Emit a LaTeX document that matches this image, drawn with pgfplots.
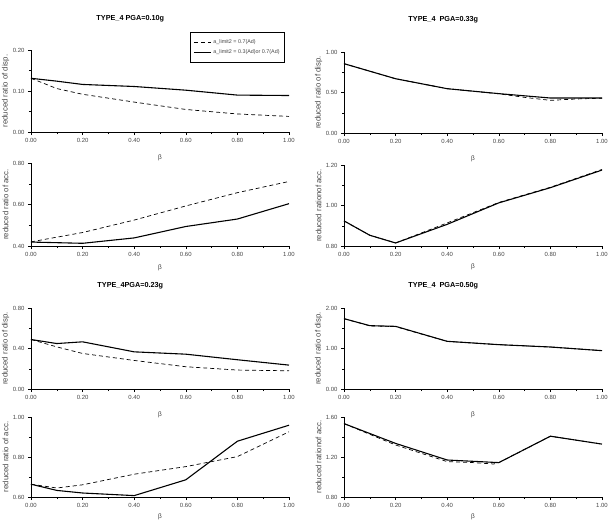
\documentclass[border=0pt]{standalone}
\usepackage{pgfplots}
\pgfplotsset{compat=1.18}
\usepackage{fontspec}
\setmainfont{Liberation Sans}
\definecolor{tk}{RGB}{70,70,70}
\pgfplotsset{
  panel/.style={
    scale only axis, width=258bp, height=82bp,
    anchor=south west,
    axis lines=left, axis line style={-, black, line width=0.6pt},
    tick align=outside, major tick length=3bp, minor tick length=2bp,
    tick style={black, line width=0.5pt},
    xmin=0, xmax=1, xtick={0,0.2,...,1.0}, minor x tick num=1,
    minor y tick num=1,
    /pgf/number format/assume math mode=true,
    /pgf/number format/.cd, fixed, fixed zerofill, precision=2, /pgfplots/.cd,
    ticklabel style={font=\fontsize{6}{7}\selectfont, text=tk},
    xlabel={β}, ylabel style={font=\fontsize{7.8}{8}\selectfont, text=tk, at={(axis description cs:-0.098,0.5)}, anchor=center},
    xlabel style={font=\fontsize{6.5}{7}\selectfont, text=tk, anchor=center},
    title style={font=\bfseries\fontsize{7.3}{8}\selectfont, anchor=center},
    clip=false,
  },
  sol/.style={black, line width=1.1pt, no marks},
  das/.style={black, line width=0.7pt, dash pattern=on 4bp off 3bp, no marks},
}
\begin{document}
\begin{tikzpicture}
\useasboundingbox (0,0) rectangle (610bp,-520bp);
% ---------------- TL disp
\begin{axis}[panel, at={(31bp,-132bp)}, ymin=0, ymax=0.2, ytick={0,0.1,0.2},
  title={TYPE\_4 PGA=0.10g}, title style={at={(axis description cs:0.385,1.305)}},
  ylabel={reduced ratio of disp.}, xlabel style={at={(axis description cs:0.5,-0.317)}},
  legend style={at={(axis description cs:0.984,1.22)}, anchor=north east, draw=black, line width=0.5pt,
    font=\fontsize{5.4}{6.5}\selectfont, inner xsep=3bp, inner ysep=5bp, row sep=1.5bp, text=tk},
  legend image post style={line width=0.8pt},
  legend cell align=left]
\addplot[das] coordinates {(0,0.131)(0.1,0.106)(0.2,0.092)(0.4,0.073)(0.6,0.055)(0.8,0.044)(1.0,0.038)};
\addlegendentry{a\_limit2 = 0.7(Ad)}
\addplot[sol] coordinates {(0,0.131)(0.1,0.124)(0.2,0.116)(0.4,0.111)(0.6,0.102)(0.8,0.090)(1.0,0.089)};
\addlegendentry{a\_limit2 = 0.3(Ad)or 0.7(Ad)}
\end{axis}
% ---------------- TL acc
\begin{axis}[panel, at={(31bp,-246bp)}, height=83bp, ymin=0.4, ymax=0.8, ytick={0.4,0.6,0.8},
  ylabel={reduced ratio of acc.}, xlabel style={at={(axis description cs:0.5,-0.26)}}]
\addplot[das] coordinates {(0,0.420)(0.2,0.465)(0.4,0.525)(0.6,0.593)(0.8,0.657)(1.0,0.711)};
\addplot[sol] coordinates {(0,0.419)(0.2,0.413)(0.4,0.439)(0.6,0.494)(0.8,0.530)(1.0,0.604)};
\end{axis}
% ---------------- TR disp
\begin{axis}[panel, at={(344bp,-133bp)}, height=81bp, ymin=0, ymax=1, ytick={0,0.5,1},
  title={TYPE\_4\ \ PGA=0.33g}, title style={at={(axis description cs:0.385,1.33)}},
  ylabel={reduced ratio of disp.}, xlabel style={at={(axis description cs:0.5,-0.317)}}]
\addplot[das] coordinates {(0,0.856)(0.2,0.670)(0.4,0.547)(0.6,0.484)(0.7,0.440)(0.8,0.403)(0.9,0.420)(1.0,0.430)};
\addplot[sol] coordinates {(0,0.856)(0.2,0.670)(0.4,0.547)(0.6,0.486)(0.8,0.432)(1.0,0.432)};
\end{axis}
% ---------------- TR acc
\begin{axis}[panel, at={(344bp,-246bp)}, height=81bp, ymin=0.8, ymax=1.2, ytick={0.8,1.0,1.2},
  ylabel={reduced rationof acc.}, xlabel style={at={(axis description cs:0.5,-0.26)}}]
\addplot[das] coordinates {(0,0.924)(0.1,0.853)(0.2,0.815)(0.4,0.914)(0.6,1.015)(0.8,1.090)(1.0,1.178)};
\addplot[sol] coordinates {(0,0.924)(0.1,0.853)(0.2,0.815)(0.4,0.907)(0.6,1.013)(0.8,1.088)(1.0,1.175)};
\end{axis}
% ---------------- BL disp
\begin{axis}[panel, at={(31bp,-389bp)}, height=81bp, ymin=0, ymax=0.8, ytick={0,0.4,0.8},
  title={TYPE\_4PGA=0.23g}, title style={at={(axis description cs:0.385,1.2)}},
  ylabel={reduced ratio of disp.}, xlabel style={at={(axis description cs:0.5,-0.317)}}]
\addplot[das] coordinates {(0,0.489)(0.1,0.416)(0.2,0.351)(0.4,0.282)(0.6,0.220)(0.8,0.187)(1.0,0.180)};
\addplot[sol] coordinates {(0,0.489)(0.1,0.449)(0.2,0.466)(0.4,0.367)(0.6,0.344)(0.8,0.289)(1.0,0.236)};
\end{axis}
% ---------------- BL acc
\begin{axis}[panel, at={(31bp,-497bp)}, height=80bp, ymin=0.6, ymax=1.0, ytick={0.6,0.8,1.0},
  ylabel={reduced ratio of acc.}, xlabel style={at={(axis description cs:0.5,-0.25)}}]
\addplot[das] coordinates {(0,0.664)(0.1,0.645)(0.2,0.661)(0.4,0.714)(0.6,0.752)(0.8,0.802)(1.0,0.926)};
\addplot[sol] coordinates {(0,0.664)(0.1,0.633)(0.2,0.620)(0.4,0.607)(0.6,0.686)(0.8,0.879)(1.0,0.959)};
\end{axis}
% ---------------- BR disp
\begin{axis}[panel, at={(344bp,-389bp)}, height=81bp, ymin=0, ymax=2, ytick={0,1,2},
  title={TYPE\_4\ \ PGA=0.50g}, title style={at={(axis description cs:0.385,1.2)}},
  ylabel={reduced ratio of disp.}, xlabel style={at={(axis description cs:0.5,-0.317)}}]
\addplot[das] coordinates {(0,1.737)(0.1,1.560)(0.2,1.540)(0.4,1.177)(0.6,1.095)(0.8,1.037)(1.0,0.947)};
\addplot[sol] coordinates {(0,1.737)(0.1,1.564)(0.2,1.547)(0.4,1.177)(0.6,1.095)(0.8,1.037)(1.0,0.947)};
\end{axis}
% ---------------- BR acc
\begin{axis}[panel, at={(344bp,-497bp)}, height=80bp, ymin=0.8, ymax=1.6, ytick={0.8,1.2,1.6},
  ylabel={reduced rationof acc.}, xlabel style={at={(axis description cs:0.5,-0.25)}}]
\addplot[das] coordinates {(0,1.534)(0.2,1.320)(0.4,1.154)(0.5,1.144)(0.58,1.130)(0.6,1.144)(0.8,1.408)(1.0,1.329)};
\addplot[sol] coordinates {(0,1.534)(0.2,1.336)(0.4,1.170)(0.6,1.144)(0.8,1.408)(1.0,1.329)};
\end{axis}
\end{tikzpicture}
\end{document}
